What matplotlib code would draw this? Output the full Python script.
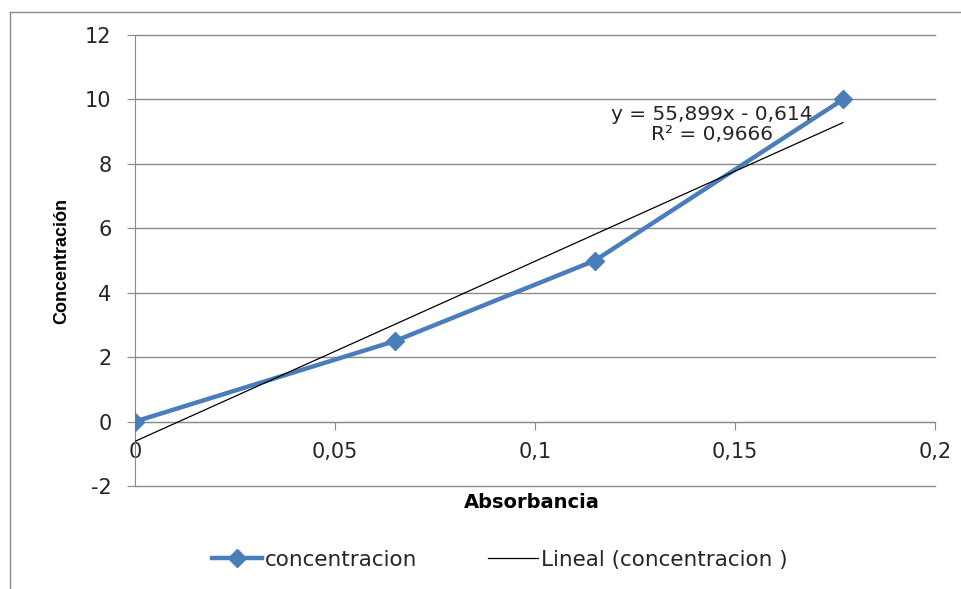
import numpy as np
import matplotlib
matplotlib.use('Agg')
import matplotlib.pyplot as plt
from matplotlib.lines import Line2D
from matplotlib.ticker import FuncFormatter, MultipleLocator

plt.rcParams['font.family'] = ['DejaVu Sans']
plt.rcParams['axes.unicode_minus'] = False

# data
absorbancia = [0, 0.065, 0.115, 0.177]
concentracion = [0, 2.5, 5, 10]
x_ticks = [0, 0.05, 0.1, 0.15, 0.2]

BLUE = '#4A7EBB'
GRID = '#8a8a8a'
TXT = '#262626'


def coma(v, pos=None):
    return f'{v:g}'.replace('.', ',')


# linear trendline (least squares, like Excel)
m, b = np.polyfit(absorbancia, concentracion, 1)
pred = np.polyval([m, b], absorbancia)
ss_res = np.sum((np.array(concentracion) - pred) ** 2)
ss_tot = np.sum((np.array(concentracion) - np.mean(concentracion)) ** 2)
r2 = 1 - ss_res / ss_tot

fig = plt.figure(figsize=(9.62, 5.89), dpi=100)
ax = fig.add_axes([135 / 962, 1 - 486 / 589, 800 / 962, 451 / 589])

ax.plot(absorbancia, concentracion, color=BLUE, lw=3.2, marker='D', markersize=9,
        label='concentracion', zorder=3)
tx = np.array([min(absorbancia), max(absorbancia)])
ax.plot(tx, m * tx + b, color='black', lw=0.9, label='Lineal (concentracion )', zorder=4)

ax.set_xlim(0, 0.2)
ax.set_ylim(-2, 12)
ax.set_xticks(x_ticks)
ax.yaxis.set_major_locator(MultipleLocator(2))
ax.xaxis.set_major_formatter(FuncFormatter(coma))
ax.yaxis.set_major_formatter(FuncFormatter(coma))

ax.grid(axis='y', color=GRID, lw=1)
for gl in ax.get_ygridlines():
    gl.set_clip_on(False)
ax.set_axisbelow(True)
for s in ['top', 'right']:
    ax.spines[s].set_visible(False)
ax.spines['bottom'].set_position(('data', 0))
ax.spines['bottom'].set_color(GRID)
ax.spines['left'].set_color(GRID)
ax.tick_params(axis='x', direction='out', length=6, color=GRID, pad=9,
               labelsize=15, labelcolor=TXT)
ax.tick_params(axis='y', direction='out', length=6, color=GRID, pad=11,
               labelsize=15, labelcolor=TXT)

fig.text(62 / 962, 1 - 261 / 589, 'Concentración', rotation=90, ha='center', va='center',
         fontsize=13, fontweight='bold', color='black', family='Liberation Sans')
fig.text(532 / 962, 1 - 503 / 589, 'Absorbancia', ha='center', va='center',
         fontsize=14, fontweight='bold', color='black')

eq = f'y = {m:.3f}x - {abs(b):.3f}'.replace('.', ',')
r2_txt = f'R² = {r2:.4f}'.replace('.', ',')
ax.text(0.1443, 9.22, eq + '\n' + r2_txt, ha='center', va='center', multialignment='center',
        fontsize=14.5, color=TXT, linespacing=1.1, zorder=5)

handles, labels = ax.get_legend_handles_labels()
fig.legend(handles, labels, loc='center', bbox_to_anchor=(500 / 962, 1 - 560 / 589), ncol=2,
           frameon=False, fontsize=15.5, handlelength=2.3, handletextpad=0.15,
           columnspacing=3.3, labelcolor=TXT, borderpad=0)

# outer chart border (only left and top visible)
fig.add_artist(Line2D([10 / 962, 10 / 962], [0, 1 - 12 / 589], transform=fig.transFigure,
                      color=GRID, lw=1))
fig.add_artist(Line2D([10 / 962, 1], [1 - 12 / 589, 1 - 12 / 589], transform=fig.transFigure,
                      color=GRID, lw=1))

fig.savefig('out.png', dpi=100)
